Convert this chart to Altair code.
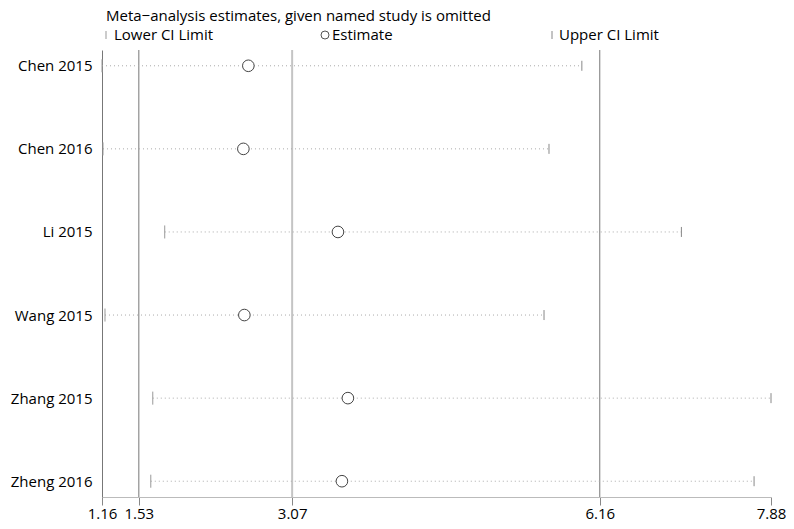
import altair as alt
import pandas as pd

studies = ["Chen 2015", "Chen 2016", "Li 2015", "Wang 2015", "Zhang 2015", "Zheng 2016"]
lower = [1.16, 1.17, 1.79, 1.19, 1.67, 1.65]
estimate = [2.63, 2.58, 3.53, 2.59, 3.63, 3.57]
upper = [5.98, 5.65, 6.98, 5.60, 7.88, 7.71]

summary_outer = [1.53, 6.16]
summary_est = [3.07]
tick_values = [1.16, 1.53, 3.07, 6.16, 7.88]

kinds = ["Lower CI Limit", "Estimate", "Upper CI Limit"]
BAR = "M0,-1L0,1"
TITLE = "Meta\u2212analysis estimates, given named study is omitted"

wide = pd.DataFrame({"study": studies, "lower": lower, "estimate": estimate, "upper": upper})
long_rows = []
for s, lo, es, up in zip(studies, lower, estimate, upper):
    long_rows.append({"study": s, "kind": kinds[0], "value": lo})
    long_rows.append({"study": s, "kind": kinds[1], "value": es})
    long_rows.append({"study": s, "kind": kinds[2], "value": up})
long = pd.DataFrame(long_rows)
legend_df = pd.DataFrame({"kind": kinds})
title_df = pd.DataFrame({"label": [TITLE]})

FONT = "Open Sans"
FS = 15
xscale = alt.Scale(domain=[1.16, 7.88], nice=False, zero=False)
yenc = alt.Y(
    "study:N",
    sort=studies,
    scale=alt.Scale(type="point", padding=0.19),
    axis=alt.Axis(title=None, domain=True, domainColor="#777", ticks=False,
                  labelPadding=10, labelFontSize=FS, labelColor="black",
                  labelFont=FONT, grid=False),
)

dotted = alt.Chart(wide).mark_rule(color="#aaa", strokeDash=[1, 3], strokeWidth=1).encode(
    x=alt.X("lower:Q", scale=xscale,
            axis=alt.Axis(values=tick_values, format=".2f", title=None, tickSize=8,
                          tickColor="#888", domainColor="#bbb", grid=False,
                          labelFontSize=FS, labelColor="black", labelFont=FONT,
                          labelPadding=1, labelFlush=False)),
    x2="upper:Q",
    y=yenc,
)

ref_outer = alt.Chart(pd.DataFrame({"v": summary_outer})).mark_rule(
    color="#777", strokeWidth=1).encode(x=alt.X("v:Q", scale=xscale))
ref_est = alt.Chart(pd.DataFrame({"v": summary_est})).mark_rule(
    color="#c4c4c4", strokeWidth=2).encode(x=alt.X("v:Q", scale=xscale))

points = alt.Chart(long).mark_point(fill="white", fillOpacity=1, strokeWidth=1, opacity=1).encode(
    x=alt.X("value:Q", scale=xscale),
    y=yenc,
    shape=alt.Shape("kind:N", scale=alt.Scale(domain=kinds, range=[BAR, "circle", BAR]), legend=None),
    stroke=alt.Stroke("kind:N", scale=alt.Scale(domain=kinds, range=["#999", "#444", "#888"]), legend=None),
    size=alt.Size("kind:N", scale=alt.Scale(domain=kinds, range=[170, 100, 170]), legend=None),
)

# legend drawn as marks in the top margin
LEG_Y = -15
title_mark = alt.Chart(title_df).mark_text(
    align="left", baseline="alphabetic", font=FONT, fontSize=FS, color="black"
).encode(text="label:N", x=alt.value(4), y=alt.value(-29))

legend_layers = []
sym_x = [4, 223, 450]
lab_x = [12, 230, 457]
sym_shape = [BAR, "circle", BAR]
sym_color = ["#999", "#555", "#888"]
for k, sx, lx, sh, sc in zip(kinds, sym_x, lab_x, sym_shape, sym_color):
    base = alt.Chart(legend_df).transform_filter(alt.datum.kind == k)
    legend_layers.append(
        base.mark_point(shape=sh, size=64, stroke=sc, fill="white", fillOpacity=1, strokeWidth=1)
        .encode(x=alt.value(sx), y=alt.value(LEG_Y))
    )
    legend_layers.append(
        base.mark_text(align="left", baseline="middle", font=FONT, fontSize=FS, color="black")
        .encode(text="kind:N", x=alt.value(lx), y=alt.value(LEG_Y))
    )

chart = alt.layer(ref_outer, ref_est, dotted, points, title_mark, *legend_layers).properties(
    width=669, height=447,
    autosize=alt.AutoSizeParams(type="none"),
    padding={"left": 94, "top": 42, "right": 15, "bottom": 24},
).configure_view(strokeWidth=0)

chart.save("out.html", embed_options={"renderer": "svg", "actions": False})
